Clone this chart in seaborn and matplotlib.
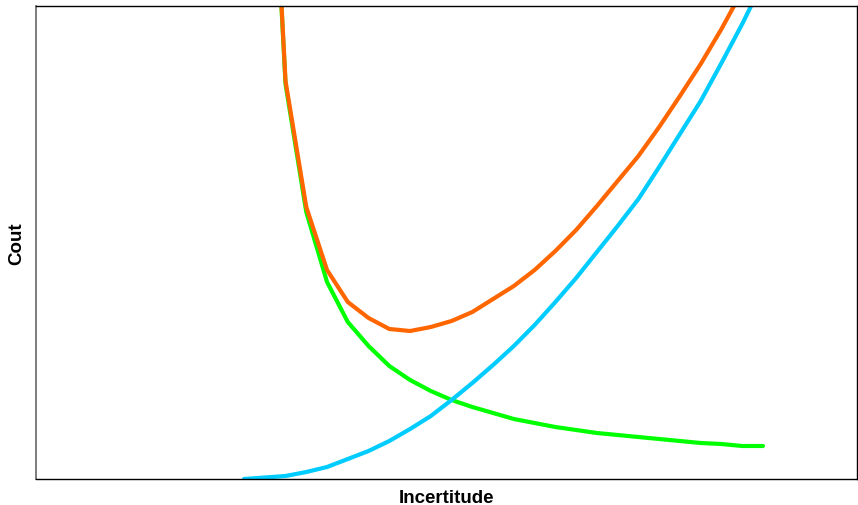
import matplotlib
matplotlib.use("Agg")
import matplotlib.pyplot as plt
import seaborn as sns
import pandas as pd
import numpy as np

# incertitude steps (arbitrary units, no ticks in the original)
incertitude = list(range(26))

# cost curves (same arbitrary units)
cout_erreur = [np.nan, 790, 395, 267, 197, 157, 133, 113, 99, 88, 79, 72, 66,
               60, 56, 52, 49, 46, 44, 42, 40, 38, 36, 35, 33, 33]
cout_mesure = [0, 1.5, 3, 7, 12, 20, 28, 38, 50, 63, 79, 96, 114, 133, 154,
               177, 201, 227, 253, 280, 312, 345, 378, 416, 455, 497]
cout_total = [np.nan, 792, 398, 272, 209, 177, 161, 150, 148, 152, 158, 167,
              180, 193, 209, 228, 249, 273, 298, 323, 352, 383, 415, 450,
              488, 530]

series_names = ["erreur", "mesure", "total"]
series_colors = ["#00FF00", "#00CCFF", "#FF6600"]

df = pd.DataFrame({
    "Incertitude": incertitude * 3,
    "Cout": cout_erreur + cout_mesure + cout_total,
    "serie": [n for n in series_names for _ in incertitude],
})

sns.set_style("white")
plt.rcParams["font.family"] = ["Liberation Sans", "DejaVu Sans"]

fig = plt.figure(figsize=(8.58, 5.06), dpi=100)
ax = fig.add_axes([36 / 858, 26 / 506, 821 / 858, 473 / 506])

sns.lineplot(data=df, x="Incertitude", y="Cout", hue="serie",
             palette=dict(zip(series_names, series_colors)),
             linewidth=3, legend=False, ax=ax, estimator=None, sort=False)

ax.set_xlim(-10.02, 29.53)
ax.set_ylim(0, 473)
ax.set_xticks([])
ax.set_yticks([])
ax.set_xlabel("Incertitude", fontsize=13.5, fontweight="bold", labelpad=7,
              color="black")
ax.set_ylabel("Cout", fontsize=13.5, fontweight="bold", labelpad=8,
              color="black")

for side in ["top", "bottom", "right"]:
    ax.spines[side].set_color("black")
    ax.spines[side].set_linewidth(1)
ax.spines["left"].set_color("#666666")
ax.spines["left"].set_linewidth(1.2)

fig.savefig("out.png", dpi=100)
